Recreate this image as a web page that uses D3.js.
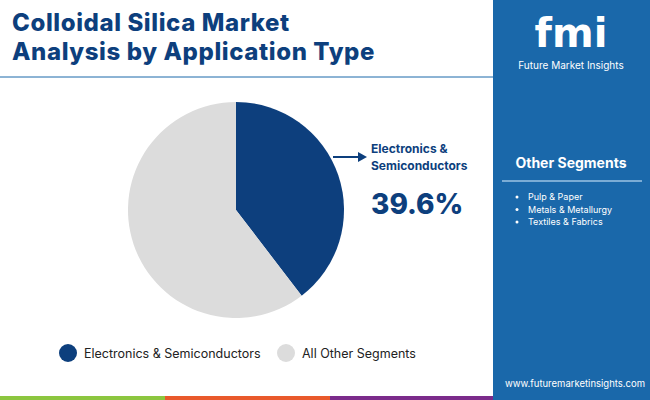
<!DOCTYPE html><html><head><meta charset="utf-8"><script src="https://d3js.org/d3.v7.min.js"></script>
<style>body{margin:0}svg{display:block;font-family:Inter,"Open Sans",sans-serif}</style></head><body><svg width="650" height="400"></svg>
<script>
const categories=["Electronics & Semiconductors","All Other Segments"];
const values=[39.6,60.4];
const colors=["#0d3f7d","#dcdcdc"];
const otherSegments=["Pulp & Paper","Metals & Metallurgy","Textiles & Fabrics"];
const svg=d3.select("svg");
svg.append("rect").attr("width",650).attr("height",400).attr("fill","#fff");
svg.append("rect").attr("x",493).attr("width",157).attr("height",400).attr("fill","#1a68aa");
svg.append("line").attr("x1",0).attr("x2",493).attr("y1",77).attr("y2",77).attr("stroke","#1a68aa").attr("stroke-width",1);
[["#8cc63f",0,165],["#e9592b",165,330],["#7b2b8b",330,493]].forEach(([c,a,b])=>svg.append("rect").attr("x",a).attr("y",396).attr("width",b-a).attr("height",4).attr("fill",c));
svg.append("text").attr("x",12).attr("y",31).attr("font-size",24).attr("font-weight",800).attr("letter-spacing",0.6).attr("fill","#0d3f7d").text("Colloidal Silica Market");
svg.append("text").attr("x",12).attr("y",60).attr("font-size",24).attr("font-weight",800).attr("letter-spacing",0.6).attr("fill","#0d3f7d").text("Analysis by Application Type");
// logo
svg.append("text").attr("x",571).attr("y",47).attr("text-anchor","middle").attr("font-size",40).attr("font-weight",900).attr("fill","#fff").attr("font-family","DejaVu Sans").text("fmi");
svg.append("text").attr("x",571).attr("y",69).attr("text-anchor","middle").attr("font-size",10).attr("fill","#fff").text("Future Market Insights");
svg.append("text").attr("x",571).attr("y",168).attr("text-anchor","middle").attr("font-size",14).attr("font-weight",700).attr("fill","#fff").text("Other Segments");
svg.append("line").attr("x1",502).attr("x2",642).attr("y1",181).attr("y2",181).attr("stroke","#9cc3e3").attr("stroke-width",1.5);
otherSegments.forEach((s,i)=>{svg.append("circle").attr("cx",517).attr("cy",197+i*12.5).attr("r",1.5).attr("fill","#fff");
svg.append("text").attr("x",528).attr("y",200+i*12.5).attr("font-size",9).attr("fill","#fff").text(s);});
svg.append("text").attr("x",645).attr("y",387).attr("text-anchor","end").attr("font-size",9.5).attr("fill","#fff").text("www.futuremarketinsights.com");
// pie
const pie=d3.pie().sort(null).value(d=>d)(values);
const arc=d3.arc().innerRadius(0).outerRadius(108);
svg.append("g").attr("transform","translate(236,210)").selectAll("path").data(pie).join("path").attr("d",arc).attr("fill",(d,i)=>colors[i]);
svg.append("line").attr("x1",333).attr("x2",360).attr("y1",157).attr("y2",157).attr("stroke","#0d3f7d").attr("stroke-width",2);
svg.append("path").attr("d","M358,152 L367,157 L358,162Z").attr("fill","#0d3f7d");
svg.append("text").attr("x",371).attr("y",153).attr("font-size",12).attr("font-weight",700).attr("fill","#0d3f7d").text("Electronics &");
svg.append("text").attr("x",371).attr("y",170).attr("font-size",12).attr("font-weight",700).attr("fill","#0d3f7d").text("Semiconductors");
svg.append("text").attr("x",371).attr("y",214).attr("font-size",28).attr("font-weight",800).attr("fill","#0d3f7d").text(values[0]+"%");
// legend
const lx=[68,286];
categories.forEach((c,i)=>{svg.append("circle").attr("cx",lx[i]).attr("cy",353).attr("r",9).attr("fill",colors[i]);
svg.append("text").attr("x",lx[i]+16).attr("y",358).attr("font-size",12.5).attr("fill","#222").text(c);});
</script></body></html>
